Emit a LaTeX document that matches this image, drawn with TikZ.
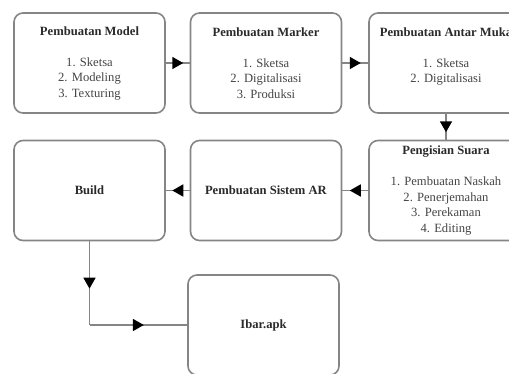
\documentclass[tikz,border=0pt]{standalone}
\usepackage{fontspec}
\setmainfont{Liberation Serif}
\usetikzlibrary{arrows.meta,decorations.markings,calc}
\definecolor{boxline}{HTML}{858585}
\definecolor{txt}{HTML}{444444}
\definecolor{ttl}{HTML}{2A2A2A}
\begin{document}
\begin{tikzpicture}[x=1pt,y=1pt,
  stepbox/.style={draw=boxline, line width=1.6pt, rounded corners=9pt, minimum width=151pt, minimum height=100pt, inner sep=0pt, align=center, text=txt, font=\fontsize{12.6}{15.5}\selectfont},
  ttlfont/.style={},
  conn/.style={draw=boxline, line width=1.6pt, postaction={decorate},
    decoration={markings, mark=at position 0.5 with {\arrow[black,xshift=5.5pt]{Triangle[length=11pt,width=12pt]}}}}
]
\useasboundingbox (0,0) rectangle (509,-373);
\node[stepbox] (b1) at (89.5,-63) {\textcolor{ttl}{\textbf{Pembuatan Model}}\\[15.5pt]1. Sketsa\\2. Modeling\\3. Texturing};
\node[stepbox] (b2) at (266,-63) {\textcolor{ttl}{\textbf{Pembuatan Marker}}\\[15.5pt]1. Sketsa\\2. Digitalisasi\\3. Produksi};
\node[stepbox, minimum width=154pt] (b3) at (446,-63) {\textcolor{ttl}{\textbf{Pembuatan Antar Muka}}\\[15.5pt]1. Sketsa\\2. Digitalisasi\\\mbox{}};
\node[stepbox, minimum width=154pt] (b4) at (446,-190.5) {\textcolor{ttl}{\textbf{Pengisian Suara}}\\[15.5pt]1. Pembuatan Naskah\\2. Penerjemahan\\3. Perekaman\\4. Editing};
\node[stepbox] (b5) at (266,-190.5) {\textcolor{ttl}{\textbf{Pembuatan Sistem AR}}};
\node[stepbox] (b6) at (89.5,-190.5) {\textcolor{ttl}{\textbf{Build}}};
\node[stepbox] (b7) at (263.5,-325) {\textcolor{ttl}{\textbf{Ibar.apk}}};
\coordinate (corner) at (b6.south |- b7.west);
\draw[conn] (b1.east) -- (b2.west);
\draw[conn] (b2.east) -- (b3.west);
\draw[conn] (b3.south) -- (b4.north);
\draw[conn] (b4.west) -- (b5.east);
\draw[conn] (b5.west) -- (b6.east);
\draw[conn] (b6.south) -- (corner);
\draw[conn] (corner) -- (b7.west);
\end{tikzpicture}
\end{document}
